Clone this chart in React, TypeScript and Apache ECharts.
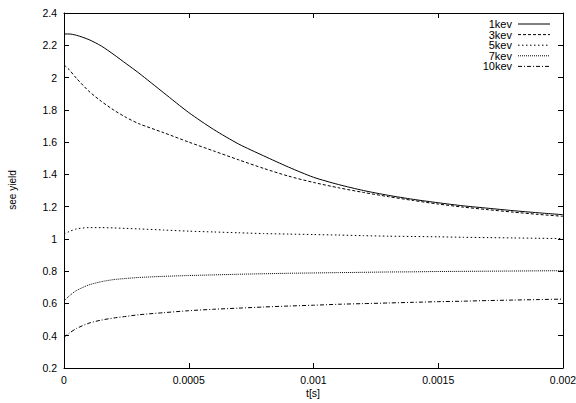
import React, { useEffect, useRef } from "react";
import * as echarts from "echarts";

const times = [
  0, 0.00002, 0.00005, 0.0001, 0.00015, 0.0002, 0.00025, 0.0003, 0.0004, 0.0005,
  0.0006, 0.0007, 0.0008, 0.0009, 0.001, 0.0011, 0.0012, 0.0013, 0.0014, 0.0015,
  0.0016, 0.0017, 0.0018, 0.0019, 0.002,
];

const kev1 = [
  2.27, 2.27, 2.262, 2.235, 2.195, 2.142, 2.085, 2.028, 1.905, 1.783,
  1.678, 1.588, 1.515, 1.445, 1.382, 1.337, 1.3, 1.27, 1.245, 1.224,
  1.205, 1.19, 1.175, 1.162, 1.15,
];
const kev3 = [
  2.078, 2.05, 1.995, 1.915, 1.852, 1.798, 1.752, 1.714, 1.658, 1.6,
  1.545, 1.49, 1.437, 1.389, 1.35, 1.317, 1.288, 1.262, 1.238, 1.216,
  1.197, 1.181, 1.166, 1.152, 1.14,
];
const kev5 = [
  1.03, 1.045, 1.062, 1.07, 1.07, 1.068, 1.065, 1.062, 1.055, 1.048,
  1.043, 1.038, 1.033, 1.03, 1.027, 1.024, 1.02, 1.017, 1.015, 1.013,
  1.01, 1.008, 1.006, 1.004, 1.002,
];
const kev7 = [
  0.615, 0.645, 0.68, 0.715, 0.735, 0.748, 0.755, 0.761, 0.768, 0.773,
  0.777, 0.781, 0.784, 0.787, 0.789, 0.791, 0.793, 0.795, 0.796, 0.798,
  0.799, 0.8, 0.801, 0.802, 0.803,
];
const kev10 = [
  0.39, 0.415, 0.445, 0.478, 0.497, 0.51, 0.52, 0.53, 0.543, 0.555,
  0.564, 0.571, 0.578, 0.584, 0.589, 0.595, 0.599, 0.603, 0.607, 0.611,
  0.614, 0.618, 0.621, 0.624, 0.627,
];

const seriesNames = ["1kev", "3kev", "5kev", "7kev", "10kev"];
const seriesValues = [kev1, kev3, kev5, kev7, kev10];
const dashes: (number[] | null)[] = [null, [3, 2], [1.5, 2.5], [1, 1], [4, 2, 1, 2]];

const xTitle = "t[s]";
const yTitle = "see yield";

const yMin = 0.2;
const yMax = 2.4;
const yInterval = 0.2;
const xMin = 0;
const xMax = 0.002;
const xInterval = 0.0005;

const FONT = "'Liberation Sans', Arial, Helvetica, sans-serif";

const mkLine = () => ({ show: true, onZero: false, lineStyle: { color: "#000", width: 1 } });
const mkTick = () => ({ show: true, inside: true, length: 5 });

export default function App() {
  const ref = useRef<HTMLDivElement>(null);
  useEffect(() => {
    if (!ref.current) return;
    const chart = echarts.init(ref.current, undefined, { renderer: "svg" });
    const g: any[] = [
      {
        type: "text",
        x: 313,
        y: 393,
        style: {
          text: xTitle,
          fontSize: 10.5,
          fontFamily: FONT,
          fill: "#000",
          textAlign: "center",
          textVerticalAlign: "middle",
        },
      },
      {
        type: "text",
        x: 12,
        y: 190,
        rotation: Math.PI / 2,
        style: {
          text: yTitle,
          fontSize: 10,
          fontFamily: FONT,
          fill: "#000",
          textAlign: "center",
          textVerticalAlign: "middle",
        },
      },
    ];
    seriesNames.forEach((n, i) => {
      const y = 24 + i * 10.6;
      g.push({
        type: "text",
        x: 512,
        y,
        style: {
          text: n,
          fontSize: 11,
          fontFamily: FONT,
          fill: "#000",
          textAlign: "right",
          textVerticalAlign: "middle",
        },
      });
      g.push({
        type: "line",
        shape: { x1: 518, y1: y, x2: 550, y2: y },
        style: { stroke: "#000", lineWidth: 1, lineDash: dashes[i] || undefined },
      });
    });

    const series: any[] = seriesNames.map((n, i) => ({
      name: n,
      type: "line",
      xAxisIndex: 0,
      yAxisIndex: 0,
      data: times.map((t, j) => [t, seriesValues[i][j]]),
      showSymbol: false,
      symbol: "none",
      smooth: 0.25,
      lineStyle: { color: "#000", width: 1, type: dashes[i] || "solid" },
    }));
    series.push({ type: "line", data: [], xAxisIndex: 1, yAxisIndex: 1 });

    chart.setOption({
      animation: false,
      backgroundColor: "#fff",
      grid: {
        left: 64,
        right: 13,
        top: 13,
        bottom: 35,
        containLabel: false,
        outerBoundsMode: "none",
      },
      xAxis: [
        {
          type: "value",
          min: xMin,
          max: xMax,
          interval: xInterval,
          position: "bottom",
          axisLine: mkLine(),
          axisTick: mkTick(),
          splitLine: { show: false },
          axisLabel: { color: "#000", fontSize: 10.5, fontFamily: FONT, margin: 6 },
        },
        {
          type: "value",
          min: xMin,
          max: xMax,
          interval: xInterval,
          position: "top",
          axisLine: mkLine(),
          axisTick: mkTick(),
          splitLine: { show: false },
          axisLabel: { show: false },
        },
      ],
      yAxis: [
        {
          type: "value",
          min: yMin,
          max: yMax,
          interval: yInterval,
          position: "left",
          axisLine: mkLine(),
          axisTick: mkTick(),
          splitLine: { show: false },
          axisLabel: { color: "#000", fontSize: 10.5, fontFamily: FONT, margin: 7 },
        },
        {
          type: "value",
          min: yMin,
          max: yMax,
          interval: yInterval,
          position: "right",
          axisLine: mkLine(),
          axisTick: mkTick(),
          splitLine: { show: false },
          axisLabel: { show: false },
        },
      ],
      series,
      graphic: g,
    });
    return () => chart.dispose();
  }, []);
  return (
    <div
      ref={ref}
      style={{ position: "fixed", left: 0, top: 0, width: 576, height: 403, background: "#fff" }}
    />
  );
}
